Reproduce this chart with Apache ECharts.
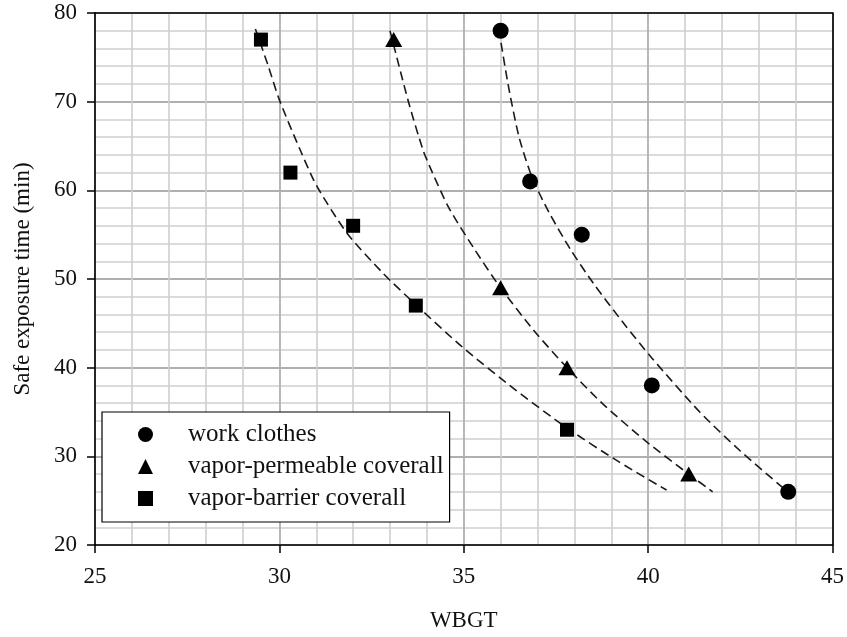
<!DOCTYPE html>
<html><head><meta charset="utf-8">
<script src="https://cdn.jsdelivr.net/npm/echarts@6/dist/echarts.min.js"></script>
<style>html,body{margin:0;padding:0;background:#fff}#c{width:847px;height:637px}</style>
</head><body><div id="c"></div>
<script>
// Legend / series names
const seriesNames = ['work clothes', 'vapor-permeable coverall', 'vapor-barrier coverall'];
// Measured points [WBGT, safe exposure time (min)]
const workClothes = [[36.0, 78], [36.8, 61], [38.2, 55], [40.1, 38], [43.8, 26]];
const vaporPermeable = [[33.1, 77], [36.0, 49], [37.8, 40], [41.1, 28]];
const vaporBarrier = [[29.5, 77], [30.3, 62], [32.0, 56], [33.7, 47], [37.8, 33]];
// Dashed trend curves
const workClothesTrend = [[35.95, 78.2], [36.2, 72], [36.5, 66], [36.85, 61.5], [37.3, 57.6], [37.9, 53.3], [38.5, 49.6], [39.3, 45.2], [40.1, 41.1], [41.4, 35], [42.5, 30.6], [43.7, 26.3]];
const vaporPermeableTrend = [[33.0, 78], [33.5, 70], [33.9, 64.5], [34.15, 62], [34.6, 58], [35.3, 53.3], [36.0, 49], [36.9, 44.2], [37.8, 40], [38.8, 35.8], [40.0, 31.5], [41.1, 28], [41.75, 26]];
const vaporBarrierTrend = [[29.35, 78.2], [29.7, 74], [30.0, 70.2], [30.56, 64.6], [31.0, 60.6], [31.83, 55.2], [32.8, 50.7], [33.7, 47.1], [34.97, 42.3], [36.4, 37.5], [37.8, 33.2], [39.2, 29.4], [40.5, 26.2]];
// Axis setup
const xRange = [25, 45], xStep = 5;
const yRange = [20, 80], yStep = 10;
const xName = 'WBGT';
const yName = 'Safe exposure time (min)';

const FONT = "'Liberation Serif', 'Times New Roman', serif";
const chart = echarts.init(document.getElementById('c'), null, {renderer: 'canvas'});
const markers = ['circle', 'triangle', 'rect'];
const markerSizes = [16, [17, 15], 14];
const pointSets = [workClothes, vaporPermeable, vaporBarrier];
const trendSets = [workClothesTrend, vaporPermeableTrend, vaporBarrierTrend];

const series = [];
trendSets.forEach((d, i) => {
  series.push({
    type: 'line', name: 'trend' + i, data: d, showSymbol: false, symbol: 'none',
    smooth: 0.25, silent: true, z: 2,
    lineStyle: {color: '#1a1a1a', width: 1.6, type: [9, 5]}
  });
});
pointSets.forEach((d, i) => {
  series.push({
    type: 'scatter', name: seriesNames[i], data: d, symbol: markers[i],
    symbolSize: markerSizes[i], z: 5,
    itemStyle: {color: '#000', opacity: 1}
  });
});

const gridLine = {show: true, lineStyle: {color: '#b0b0b0', width: 1.8}};
const minorLine = {show: true, lineStyle: {color: '#cfcfcf', width: 1.6}};

chart.setOption({
  animation: false,
  backgroundColor: '#fff',
  textStyle: {fontFamily: FONT},
  grid: {left: 95, right: 14, top: 13, bottom: 92, containLabel: false},
  legend: {
    data: seriesNames.map((n, i) => ({name: n, icon: markers[i]})),
    orient: 'vertical', left: 102, top: 412,
    itemWidth: 15, itemHeight: 15, itemGap: 7,
    padding: [10, 6, 11, 36],
    borderColor: '#000', borderWidth: 1.2, backgroundColor: '#fff',
    textStyle: {fontFamily: FONT, fontSize: 25, color: '#111', padding: [0, 0, 0, 30]},
    itemStyle: {color: '#000'}
  },
  xAxis: [{
    type: 'value', min: xRange[0], max: xRange[1], interval: xStep,
    name: xName, nameLocation: 'middle', nameGap: 64,
    nameTextStyle: {fontFamily: FONT, fontSize: 23, color: '#111'},
    axisLine: {show: true, onZero: false, lineStyle: {color: '#000', width: 1.6}},
    axisTick: {show: true, inside: false, length: 8, lineStyle: {color: '#000', width: 1.5}},
    minorTick: {show: false, splitNumber: 5},
    axisLabel: {fontFamily: FONT, fontSize: 23, color: '#111', margin: 20},
    splitLine: gridLine, minorSplitLine: minorLine
  }, {
    type: 'value', min: xRange[0], max: xRange[1], position: 'top', z: 4,
    axisLine: {show: true, onZero: false, lineStyle: {color: '#000', width: 1.6}},
    axisTick: {show: false}, axisLabel: {show: false}, splitLine: {show: false}
  }],
  yAxis: [{
    type: 'value', min: yRange[0], max: yRange[1], interval: yStep,
    name: yName, nameLocation: 'middle', nameGap: 61, nameRotate: 90,
    nameTextStyle: {fontFamily: FONT, fontSize: 23, color: '#111'},
    axisLine: {show: true, onZero: false, lineStyle: {color: '#000', width: 1.6}},
    axisTick: {show: true, inside: false, length: 8, lineStyle: {color: '#000', width: 1.5}},
    minorTick: {show: false, splitNumber: 5},
    axisLabel: {fontFamily: FONT, fontSize: 23, color: '#111', margin: 18},
    splitLine: gridLine, minorSplitLine: minorLine
  }, {
    type: 'value', min: yRange[0], max: yRange[1], position: 'right', z: 4,
    axisLine: {show: true, onZero: false, lineStyle: {color: '#000', width: 1.6}},
    axisTick: {show: false}, axisLabel: {show: false}, splitLine: {show: false}
  }],
  series: series
});
</script>
</body></html>
